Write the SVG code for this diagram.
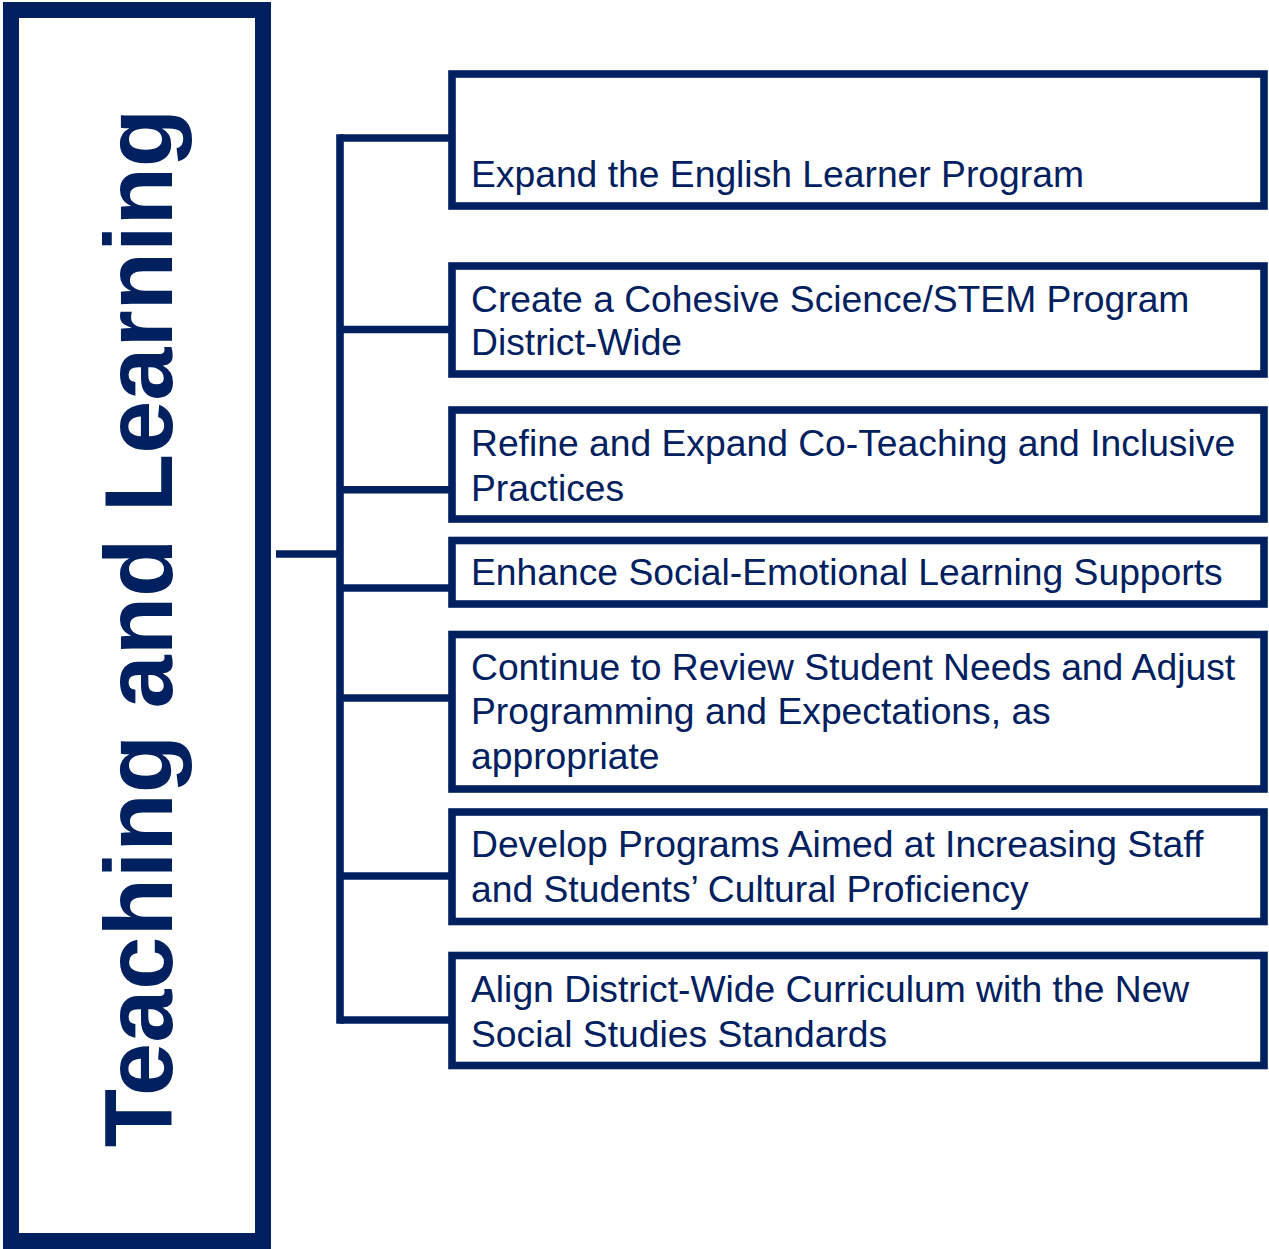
<svg xmlns="http://www.w3.org/2000/svg" width="1269" height="1249" viewBox="0 0 1269 1249">
<style>
.bg{fill:#ffffff}
.main{fill:#ffffff;stroke:#002060;stroke-width:16}
.box{fill:#ffffff;stroke:#002060;stroke-width:7.6}
.conn{fill:none;stroke:#002060;stroke-width:7.6}
.title{font-family:"Liberation Sans",Arial,sans-serif;font-weight:bold;font-size:95.5px;fill:#002060}
.lbl{font-family:"Liberation Sans",Arial,sans-serif;font-size:37.25px;fill:#002060}
</style>
<rect class="bg" x="0" y="0" width="1269" height="1249"/>
<g id="main-node">
<rect class="main" x="11" y="10" width="252" height="1231"/>
<text class="title" text-anchor="middle" transform="translate(172,628) rotate(-90)">Teaching and Learning</text>
</g>
<g id="connectors">
<line class="conn" x1="276" y1="554" x2="340" y2="554"/>
<line class="conn" x1="340" y1="134.2" x2="340" y2="1023.8"/>
<line class="conn" x1="340" y1="138" x2="452" y2="138"/>
<line class="conn" x1="340" y1="329.5" x2="452" y2="329.5"/>
<line class="conn" x1="340" y1="489.7" x2="452" y2="489.7"/>
<line class="conn" x1="340" y1="588" x2="452" y2="588"/>
<line class="conn" x1="340" y1="698" x2="452" y2="698"/>
<line class="conn" x1="340" y1="876" x2="452" y2="876"/>
<line class="conn" x1="340" y1="1020" x2="452" y2="1020"/>
</g>
<g id="node1">
<rect class="box" x="452" y="74" width="812" height="132"/>
<text class="lbl" x="471" y="187">Expand the English Learner Program</text>
</g>
<g id="node2">
<rect class="box" x="452" y="266" width="812" height="108"/>
<text class="lbl" x="471" y="312">Create a Cohesive Science/STEM Program</text>
<text class="lbl" x="471" y="355">District-Wide</text>
</g>
<g id="node3">
<rect class="box" x="452" y="410" width="812" height="109"/>
<text class="lbl" x="471" y="456">Refine and Expand Co-Teaching and Inclusive</text>
<text class="lbl" x="471" y="500.5">Practices</text>
</g>
<g id="node4">
<rect class="box" x="452" y="540.5" width="812" height="63.5"/>
<text class="lbl" x="471" y="585">Enhance Social-Emotional Learning Supports</text>
</g>
<g id="node5">
<rect class="box" x="452" y="634.5" width="812" height="154.5"/>
<text class="lbl" x="471" y="679.5">Continue to Review Student Needs and Adjust</text>
<text class="lbl" x="471" y="723.5">Programming and Expectations, as</text>
<text class="lbl" x="471" y="768.5">appropriate</text>
</g>
<g id="node6">
<rect class="box" x="452" y="812" width="812" height="109.5"/>
<text class="lbl" x="471" y="857">Develop Programs Aimed at Increasing Staff</text>
<text class="lbl" x="471" y="902">and Students’ Cultural Proficiency</text>
</g>
<g id="node7">
<rect class="box" x="452" y="955.5" width="812" height="110"/>
<text class="lbl" x="471" y="1002">Align District-Wide Curriculum with the New</text>
<text class="lbl" x="471" y="1047">Social Studies Standards</text>
</g>
</svg>
